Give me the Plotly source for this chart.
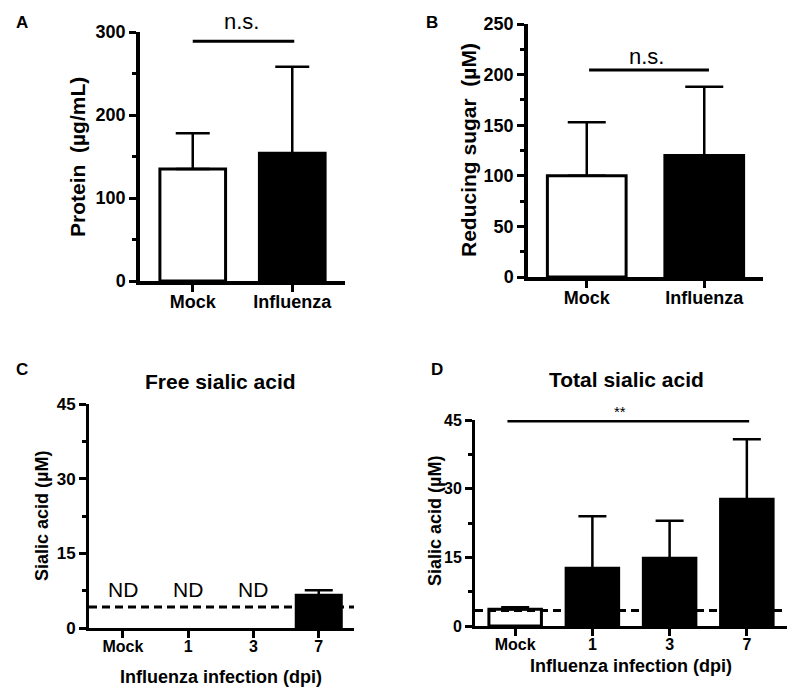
import plotly.graph_objects as go

# ---------------- data ----------------
ab_groups = ["Mock", "Influenza"]
protein_mean = [135, 154]
protein_err = [43, 104]
sugar_mean = [100, 120]
sugar_err = [53, 68]

dpi_groups = ["Mock", "1", "3", "7"]
free_sia_mean = [None, None, None, 6.6]
free_sia_err = [None, None, None, 1.0]
free_nd_groups = ["Mock", "1", "3"]
total_sia_mean = [3.65, 12.6, 14.8, 27.7]
total_sia_err = [0.45, 11.4, 8.2, 13.1]
free_detect_limit = 4.2
total_detect_limit = 3.4

FONT = "Liberation Sans, Arial, sans-serif"
W, H = 800, 700


def px(x):
    return x / W


def py(y):
    return 1 - y / H


fig = go.Figure()

bar_line = dict(color="black", width=3)


def add_bars(x, y, err, colors, width, capw, xa, ya):
    fig.add_trace(go.Bar(
        x=x, y=y, width=width, xaxis=xa, yaxis=ya,
        marker=dict(color=colors, line=bar_line),
        error_y=dict(type="data", array=err, arrayminus=[0] * len(err),
                     symmetric=False, color="black", thickness=2.5, width=capw),
        showlegend=False, hoverinfo="skip",
    ))


add_bars(ab_groups, protein_mean, protein_err, ["white", "black"], 0.66, 17, "x", "y")
add_bars(ab_groups, sugar_mean, sugar_err, ["white", "black"], 0.67, 19, "x2", "y2")
add_bars(dpi_groups, free_sia_mean, free_sia_err, ["black"] * 4, 0.69, 14, "x3", "y3")
add_bars(dpi_groups, total_sia_mean, total_sia_err, ["white", "black", "black", "black"], 0.68, 14, "x4", "y4")


def yaxis(dom, rng, dtick, minor, anchor, fs, lw):
    return dict(
        domain=[py(dom[1]), py(dom[0])], range=rng, dtick=dtick, tick0=0,
        showline=True, linewidth=lw, linecolor="black", mirror=False,
        ticks="outside", ticklen=7, tickwidth=3, tickcolor="black",
        showgrid=False, zeroline=False, anchor=anchor, automargin=False,
        tickfont=dict(family=FONT, size=fs, color="black", weight="bold"),
        minor=dict(dtick=minor, tick0=0, ticks="outside", ticklen=4,
                   tickwidth=3, tickcolor="black", showgrid=False),
    )


def xaxis(dom, rng, anchor, fs, lw):
    return dict(
        domain=[px(dom[0]), px(dom[1])], range=rng, type="category",
        showline=True, linewidth=lw, linecolor="black", automargin=False,
        ticks="outside", ticklen=7, tickwidth=3, tickcolor="black",
        ticklabelstandoff=-5,
        showgrid=False, zeroline=False, anchor=anchor,
        tickfont=dict(family=FONT, size=fs, color="black", weight="bold"),
    )


fig.update_layout(
    template="none",
    width=W, height=H, margin=dict(l=0, r=0, t=0, b=0, pad=0, autoexpand=False),
    paper_bgcolor="white", plot_bgcolor="white",
    font=dict(family=FONT, color="black"),
    showlegend=False,
    xaxis=xaxis((140, 345), [-0.53, 1.53], "y", 18, 3.5),
    yaxis=yaxis((32, 281), [0, 300], 100, 50, "x", 18, 3.5),
    xaxis2=xaxis((528, 763), [-0.5, 1.5], "y2", 18, 3.5),
    yaxis2=yaxis((24, 277), [0, 250], 50, 25, "x2", 18, 3.5),
    xaxis3=xaxis((89, 354), [-0.52, 3.54], "y3", 16, 3),
    yaxis3=yaxis((404, 628), [0, 45], 15, 7.5, "x3", 17, 3),
    xaxis4=xaxis((475, 787), [-0.52, 3.52], "y4", 16, 3),
    yaxis4=yaxis((420, 626), [0, 45], 15, 7.5, "x4", 16, 3),
)

shapes = []
# significance lines
shapes.append(dict(type="line", xref="x", yref="y", x0=0, x1=1.02, y0=289, y1=289,
                   line=dict(color="black", width=3)))
shapes.append(dict(type="line", xref="x2", yref="y2", x0=0.02, x1=1.04, y0=204.5, y1=204.5,
                   line=dict(color="black", width=3)))
shapes.append(dict(type="line", xref="x4", yref="y4", x0=-0.1, x1=3.03, y0=44.8, y1=44.8,
                   line=dict(color="black", width=3)))
# detection limit dashed lines
shapes.append(dict(type="line", xref="x3 domain", yref="y3", x0=0, x1=1,
                   y0=free_detect_limit, y1=free_detect_limit,
                   line=dict(color="black", width=3, dash="8px,5px")))
shapes.append(dict(type="line", xref="x4 domain", yref="y4", x0=0, x1=1,
                   y0=total_detect_limit, y1=total_detect_limit,
                   line=dict(color="black", width=3, dash="8px,5px")))
fig.update_layout(shapes=shapes)


def ann(text, x, y, size, bold=False, angle=0):
    return dict(text=text, x=px(x), y=py(y), xref="paper", yref="paper",
                showarrow=False, textangle=angle, xanchor="center", yanchor="middle",
                font=dict(family=FONT, size=size, color="black",
                          weight="bold" if bold else "normal"))


annotations = [
    ann("A", 22, 23, 17, True),
    ann("B", 432, 23, 17, True),
    ann("C", 22, 369, 17, True),
    ann("D", 437, 369, 17, True),
    ann("Protein  (µg/mL)", 77, 157, 21, True, -90),
    ann("Reducing sugar  (µM)", 468, 150, 21, True, -90),
    ann("Sialic acid (µM)", 42, 516, 18, True, -90),
    ann("Sialic acid (µM)", 435, 521, 18, True, -90),
    ann("Free sialic acid", 220, 381, 21, True),
    ann("Total sialic acid", 626, 380, 21, True),
    ann("Influenza infection (dpi)", 221, 677, 18, True),
    ann("Influenza infection (dpi)", 631, 666, 18, True),
    ann("n.s.", 241, 21, 22),
    ann("n.s.", 646, 57, 22),
    ann("**", 620, 411, 15),
]
for g in free_nd_groups:
    annotations.append(dict(text="ND", x=dpi_groups.index(g), y=7.8, xref="x3", yref="y3",
                            showarrow=False, xanchor="center", yanchor="middle",
                            font=dict(family=FONT, size=21, color="black")))
fig.update_layout(annotations=annotations)

fig.write_html("out.html", config={"displayModeBar": False},
               post_script="document.body.style.margin='0';")
